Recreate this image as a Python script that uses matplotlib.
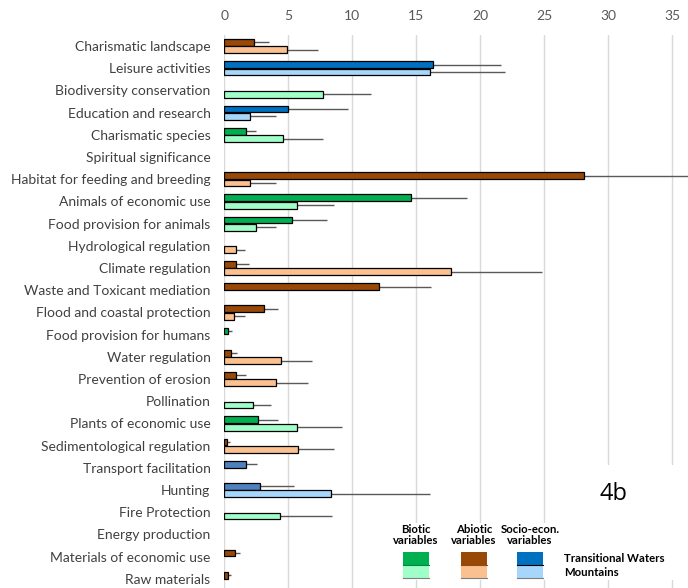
import matplotlib
matplotlib.use("Agg")
import matplotlib.pyplot as plt
from matplotlib.patches import Rectangle
import numpy as np

plt.rcParams['font.family'] = ['Lato', 'DejaVu Sans']

categories = [
    "Charismatic landscape", "Leisure activities", "Biodiversity conservation",
    "Education and research", "Charismatic species", "Spiritual significance",
    "Habitat for feeding and breeding", "Animals of economic use",
    "Food provision for animals", "Hydrological regulation", "Climate regulation",
    "Waste and Toxicant mediation", "Flood and coastal protection",
    "Food provision for humans", "Water regulation", "Prevention of erosion",
    "Pollination", "Plants of economic use", "Sedimentological regulation",
    "Transport facilitation", "Hunting", "Fire Protection", "Energy production",
    "Materials of economic use", "Raw materials",
]
groups = ["abio", "soc", "bio", "soc", "bio", "soc", "abio", "bio", "bio", "abio",
          "abio", "abio", "abio", "bio", "abio", "abio", "bio", "bio", "abio",
          "soc2", "soc2", "bio", "abio", "abio", "abio"]

tw_mean = [2.34, 16.28, 0, 5.0, 1.67, 0, 28.07, 14.58, 5.31, 0, 0.94, 12.08, 3.10,
           0.31, 0.49, 0.89, 0, 2.63, 0.23, 1.72, 2.79, 0, 0, 0.83, 0.29]
tw_err = [1.12, 5.3, 0, 4.64, 0.8, 0, 8.5, 4.4, 2.7, 0, 0.96, 4.1, 1.07,
          0.26, 0.47, 0.8, 0, 1.54, 0.21, 0.83, 2.63, 0, 0, 0.39, 0.23]
mt_mean = [4.87, 16.04, 7.71, 2.03, 4.56, 0, 2.03, 5.65, 2.5, 0.94, 17.73, 0, 0.78,
           0, 4.43, 4.01, 2.27, 5.65, 5.76, 0, 8.36, 4.38, 0, 0, 0]
mt_err = [2.42, 5.86, 3.72, 1.98, 3.12, 0, 1.98, 2.89, 1.51, 0.65, 7.11, 0, 0.81,
          0, 2.42, 2.53, 1.4, 3.52, 2.83, 0, 7.73, 4.06, 0, 0, 0]

x_ticks = [0, 5, 10, 15, 20, 25, 30, 35]

dark = {"bio": "#00B050", "abio": "#984807", "soc": "#0070C0", "soc2": "#4F81BD"}
light = {"bio": "#A0FFC8", "abio": "#FAC090", "soc": "#A6D6FA", "soc2": "#A6D6FA"}

W, H = 688, 588
fig = plt.figure(figsize=(W / 100, H / 100), dpi=100)

def fx(px):
    return px / W

def fy(py):
    return 1 - py / H

ax_left, ax_right, ax_top, ax_bot = 224.3, 688, 35, 590
ax = fig.add_axes([fx(ax_left), fy(ax_bot), fx(ax_right - ax_left), (ax_bot - ax_top) / H])

n = len(categories)
pos = np.arange(n)
off = 0.165
h = 0.31
tw_col = [dark[g] for g in groups]
mt_col = [light[g] for g in groups]
tw_edge = ["black" if v > 0 else "none" for v in tw_mean]
mt_edge = ["black" if v > 0 else "none" for v in mt_mean]

ax.barh(pos - off, tw_mean, height=h, color=tw_col, edgecolor=tw_edge, linewidth=0.9, zorder=3)
ax.barh(pos + off, mt_mean, height=h, color=mt_col, edgecolor=mt_edge, linewidth=0.9, zorder=3)
tw_m = np.array(tw_mean) > 0
mt_m = np.array(mt_mean) > 0
ax.errorbar(np.array(tw_mean)[tw_m], (pos - off)[tw_m],
            xerr=[np.zeros(tw_m.sum()), np.array(tw_err)[tw_m]], fmt="none",
            ecolor="#595959", elinewidth=1.0, capsize=0, zorder=2)
ax.errorbar(np.array(mt_mean)[mt_m], (pos + off)[mt_m],
            xerr=[np.zeros(mt_m.sum()), np.array(mt_err)[mt_m]], fmt="none",
            ecolor="#595959", elinewidth=1.0, capsize=0, zorder=2)

xmax = (ax_right - ax_left) / 12.8
ax.set_xlim(0, xmax)
ax.set_ylim(n - 0.5, -0.5)
ax.set_xticks(x_ticks)
ax.set_yticks(pos)
ax.set_yticklabels(categories)
ax.xaxis.tick_top()
ax.tick_params(axis="x", length=0, pad=9, labelsize=10, labelcolor="#595959")
ax.tick_params(axis="y", length=0, pad=10, labelsize=10, labelcolor="#404040")
ax.grid(axis="x", color="#D9D9D9", linewidth=1)
ax.set_axisbelow(True)
for s in ax.spines.values():
    s.set_visible(False)

# white boxes for the "4b" label and legend
fig.patches.append(Rectangle((fx(588), fy(523)), fx(100), (523 - 465) / H,
                             transform=fig.transFigure, facecolor="white",
                             edgecolor="none", zorder=5))
fig.patches.append(Rectangle((fx(392), fy(580)), fx(296), (580 - 523) / H,
                             transform=fig.transFigure, facecolor="white",
                             edgecolor="none", zorder=5))
fig.text(fx(613), fy(494), "4b", fontsize=17, ha="center", va="center", zorder=6,
         family=["Open Sans", "DejaVu Sans"])

legend_groups = [("Biotic\nvariables", "bio", 416, "#00873C"),
                 ("Abiotic\nvariables", "abio", 474, "#984807"),
                 ("Socio-econ.\nvariables", "soc", 530, "black")]
for label, g, cx, mid in legend_groups:
    fig.text(fx(cx), fy(535), label, fontsize=8.2, fontweight="bold", ha="center",
             va="center", linespacing=1.1, zorder=6)
    fig.patches.append(Rectangle((fx(cx - 13), fy(565)), fx(26), 13 / H,
                                 transform=fig.transFigure, facecolor=dark[g],
                                 edgecolor="none", zorder=6))
    fig.patches.append(Rectangle((fx(cx - 13), fy(578)), fx(26), 13 / H,
                                 transform=fig.transFigure, facecolor=light[g],
                                 edgecolor="none", zorder=6))
    fig.lines.append(plt.Line2D([fx(cx - 13), fx(cx + 13)], [fy(565), fy(565)],
                                transform=fig.transFigure, color=mid, lw=0.8, zorder=7))
    fig.lines.append(plt.Line2D([fx(cx - 13), fx(cx + 13)], [fy(578), fy(578)],
                                transform=fig.transFigure, color="#7F7F7F", lw=0.8, zorder=7))
fig.text(fx(564), fy(559), "Transitional Waters", fontsize=8.2, fontweight="bold",
         ha="left", va="center", zorder=6)
fig.text(fx(564), fy(573), "Mountains", fontsize=8.2, fontweight="bold",
         ha="left", va="center", zorder=6)

fig.savefig("out.png", dpi=100)
